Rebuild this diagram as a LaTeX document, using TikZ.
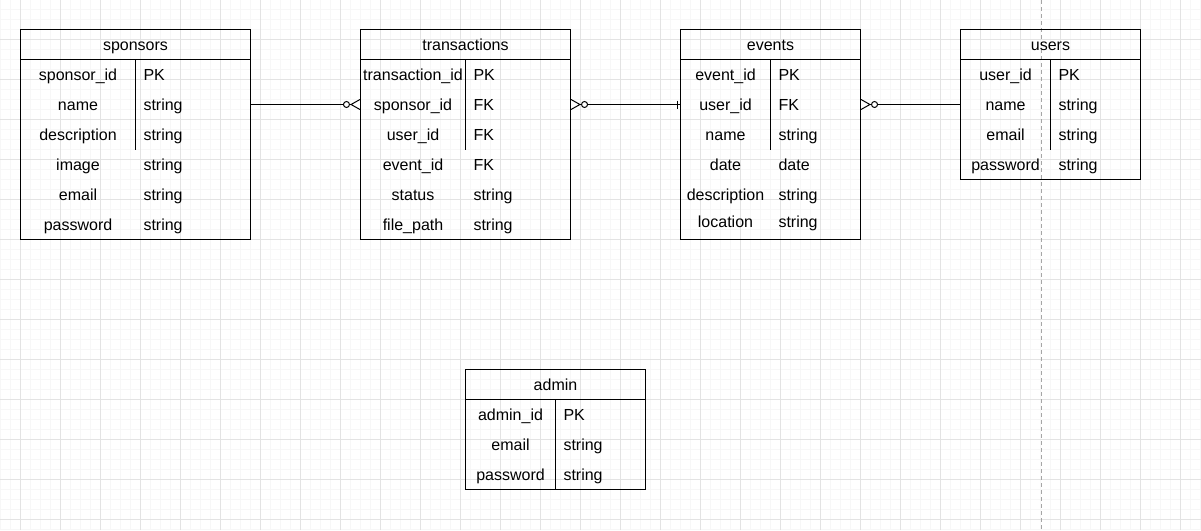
\documentclass[tikz,border=0pt]{standalone}
\usepackage{fontspec}
\setmainfont{Liberation Sans}
\usetikzlibrary{matrix, positioning, calc, arrows.meta}
\newcommand{\erfont}{\fontsize{16pt}{19pt}\selectfont}
\tikzset{
   erhead/.style={draw, line width=1pt, minimum height=30pt, inner sep=0pt, outer sep=0pt, text height=14pt, text depth=2pt},
   erbody/.style={matrix of nodes, draw, line width=1pt, inner sep=0pt, outer sep=0pt, row sep=0pt, column sep=0pt,
      nodes={inner sep=0pt, outer sep=0pt, minimum height=30pt, text height=14pt, text depth=2pt, anchor=center},
      ampersand replacement=\&},
   ercols/.style 2 args={column 1/.style={nodes={minimum width=#1}},
      column 2/.style={nodes={text width=#2, inner xsep=8pt, align=left}}},
   erline/.style={draw, line width=1pt},
   minorgrid/.style={draw=black!3, line width=1pt},
   majorgrid/.style={draw=black!11, line width=1pt},
   zeromany/.tip={Circle[open, fill=white, length=7pt, width=7pt] Straight Barb[reversed, length=9pt, width=10pt]}
}
\begin{document}
\begin{tikzpicture}[x=1pt, y=-1pt, every node/.style={font=\erfont}]
      \useasboundingbox (0,0) rectangle (1201,530);
      % background grid
      \foreach \gx in {0.5,10.5,...,1200.5} \draw[minorgrid] (\gx,0) -- (\gx,530);
      \foreach \gy in {9.5,19.5,...,529.5} \draw[minorgrid] (0,\gy) -- (1201,\gy);
      \foreach \gx in {20.5,60.5,...,1180.5} \draw[majorgrid] (\gx,0) -- (\gx,530);
      \foreach \gy in {39.5,79.5,...,519.5} \draw[majorgrid] (0,\gy) -- (1201,\gy);
      \draw[black!35, line width=1pt, dash pattern=on 4pt off 3pt] (1041.5,0) -- (1041.5,530);

      % tables
      \node[erhead, minimum width=230pt] (sponsors) at (135.5,44.5) {sponsors};
      \matrix (sponsorsf) [erbody, ercols={115pt}{99pt}, below=0pt of sponsors] {
         sponsor\_id \& PK \\
         name \& string \\
         description \& string \\
         image \& string \\
         email \& string \\
         password \& string \\
      };
      \node[erhead, minimum width=210pt] (transactions) at (465.5,44.5) {transactions};
      \matrix (transactionsf) [erbody, ercols={105pt}{89pt}, below=0pt of transactions] {
         transaction\_id \& PK \\
         sponsor\_id \& FK \\
         user\_id \& FK \\
         event\_id \& FK \\
         status \& string \\
         file\_path \& string \\
      };
      \node[erhead, minimum width=180pt] (events) at (770.5,44.5) {events};
      \matrix (eventsf) [erbody, ercols={90pt}{74pt}, below=0pt of events,
          row 6/.style={nodes={text height=11pt, text depth=5pt}}] {
         event\_id \& PK \\
         user\_id \& FK \\
         name \& string \\
         date \& date \\
         description \& string \\
         location \& string \\
      };
      \node[erhead, minimum width=180pt] (users) at (1050.5,44.5) {users};
      \matrix (usersf) [erbody, ercols={90pt}{74pt}, below=0pt of users] {
         user\_id \& PK \\
         name \& string \\
         email \& string \\
         password \& string \\
      };
      \node[erhead, minimum width=180pt] (admin) at (555.5,384.5) {admin};
      \matrix (adminf) [erbody, ercols={90pt}{74pt}, below=0pt of admin] {
         admin\_id \& PK \\
         email \& string \\
         password \& string \\
      };

      % key column dividers
      \draw[erline] (sponsorsf-1-1.north east) -- (sponsorsf-3-1.south east);
      \draw[erline] (transactionsf-1-1.north east) -- (transactionsf-3-1.south east);
      \draw[erline] (eventsf-1-1.north east) -- (eventsf-3-1.south east);
      \draw[erline] (usersf-1-1.north east) -- (usersf-3-1.south east);
      \draw[erline] (adminf-1-1.north east) -- (adminf-3-1.south east);

      % relations
      \draw[erline, -{zeromany}] (sponsorsf-2-2.east) -- (transactionsf-2-1.west);
      \draw[erline, {zeromany}-] (transactionsf-2-2.east) -- (eventsf-2-1.west);
      \draw[erline] ([xshift=-3pt]eventsf-2-1.west) ++(0,-4) -- ++(0,8);
      \draw[erline, {zeromany}-] (eventsf-2-2.east) -- (usersf-2-1.west);
\end{tikzpicture}
\end{document}
